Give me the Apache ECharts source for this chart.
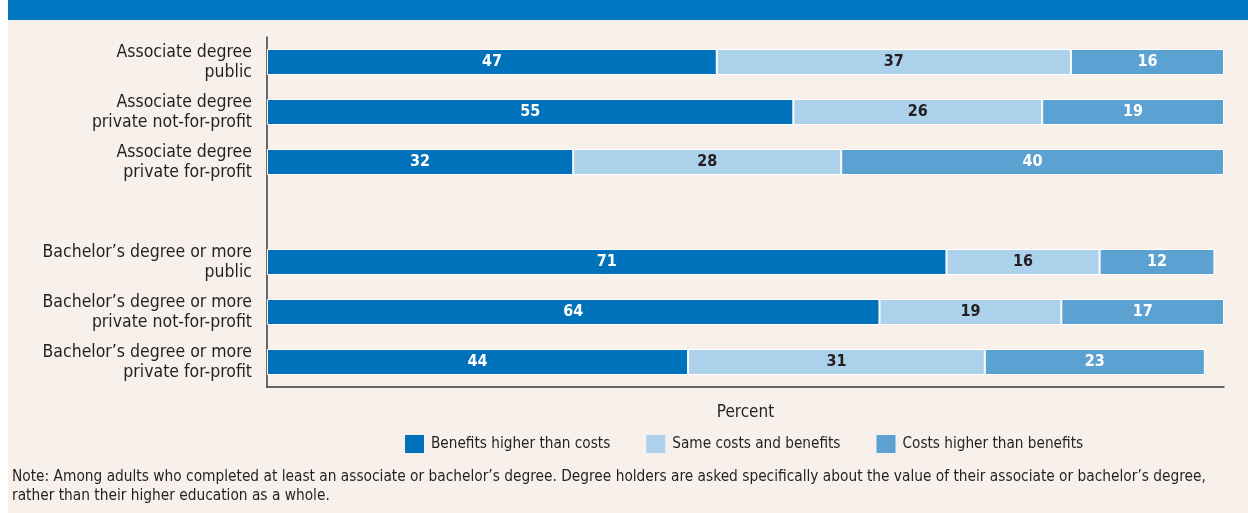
<!DOCTYPE html>
<html>
<head>
<meta charset="utf-8">
<script src="https://cdn.jsdelivr.net/npm/echarts@6/dist/echarts.min.js"></script>
<style>
  html, body { margin: 0; padding: 0; background: #ffffff; }
  #chart { position: absolute; left: 8px; top: 0; width: 1240px; height: 513px; }
</style>
</head>
<body>
<div id="chart"></div>
<script>
// rows, top to bottom (empty entry = gap between the two groups)
const categories = [
  'Associate degree\npublic',
  'Associate degree\nprivate not-for-profit',
  'Associate degree\nprivate for-profit',
  '',
  'Bachelor\u2019s degree or more\npublic',
  'Bachelor\u2019s degree or more\nprivate not-for-profit',
  'Bachelor\u2019s degree or more\nprivate for-profit'
]
const seriesNames = ['Benefits higher than costs', 'Same costs and benefits', 'Costs higher than benefits']
const benefitsHigher = [47, 55, 32, '-', 71, 64, 44]
const sameCosts = [37, 26, 28, '-', 16, 19, 31]
const costsHigher = [16, 19, 40, '-', 12, 17, 23]

const FONT = '"Liberation Sans Narrow", "DejaVu Sans Condensed", "Arial Narrow", sans-serif'
const TEXT = '#231f20'
const colors = ['#0071bb', '#acd1ea', '#5ba2d3']
const labelColors = ['#ffffff', TEXT, '#ffffff']

const myChart = echarts.init(document.getElementById('chart'))

const makeSeries = (name, data, i) => ({
  name: name,
  type: 'bar',
  stack: 'total',
  data: data,
  barWidth: 26,
  itemStyle: { color: colors[i], borderColor: '#ffffff', borderWidth: 1 },
  label: {
    show: true,
    position: 'inside',
    color: labelColors[i],
    fontFamily: FONT,
    fontWeight: 'bold',
    fontSize: 16
  },
  emphasis: { disabled: true }
})

const option = {
  backgroundColor: '#f8f1eb',
  animation: false,
  textStyle: { fontFamily: FONT },
  graphic: [
    {
      type: 'rect',
      left: 0,
      top: 0,
      shape: { width: 1240, height: 20 },
      style: { fill: '#0077c0' }
    },
    {
      type: 'text',
      left: 4,
      top: 468,
      style: {
        text: 'Note: Among adults who completed at least an associate or bachelor\u2019s degree. Degree holders are asked specifically about the value of their associate or bachelor\u2019s degree,\nrather than their higher education as a whole.',
        fontFamily: FONT,
        fontSize: 15.3,
        lineHeight: 19,
        fill: TEXT
      }
    }
  ],
  legend: {
    data: seriesNames,
    left: 397,
    top: 435,
    padding: 0,
    itemWidth: 19,
    itemHeight: 18,
    itemGap: 36,
    icon: 'rect',
    selectedMode: false,
    itemStyle: { borderWidth: 0 },
    textStyle: { fontFamily: FONT, fontSize: 15.2, color: TEXT, padding: [0, 0, 0, 2] }
  },
  grid: { left: 259, right: 24, top: 37, bottom: 126 },
  xAxis: {
    type: 'value',
    min: 0,
    max: 100,
    name: 'Percent',
    nameLocation: 'middle',
    nameGap: 17,
    nameTextStyle: { fontFamily: FONT, fontSize: 17, color: TEXT },
    axisLine: { show: true, lineStyle: { color: '#3a3a3a', width: 1.5 } },
    axisTick: { show: false },
    axisLabel: { show: false },
    splitLine: { show: false }
  },
  yAxis: {
    type: 'category',
    inverse: true,
    data: categories,
    axisLine: { show: true, lineStyle: { color: '#3a3a3a', width: 1.5 } },
    axisTick: { show: false },
    axisLabel: {
      margin: 15,
      fontFamily: FONT,
      fontSize: 17.5,
      lineHeight: 20,
      color: TEXT,
      align: 'right'
    }
  },
  series: [
    makeSeries(seriesNames[0], benefitsHigher, 0),
    makeSeries(seriesNames[1], sameCosts, 1),
    makeSeries(seriesNames[2], costsHigher, 2)
  ]
}
option && myChart.setOption(option)
</script>
</body>
</html>
